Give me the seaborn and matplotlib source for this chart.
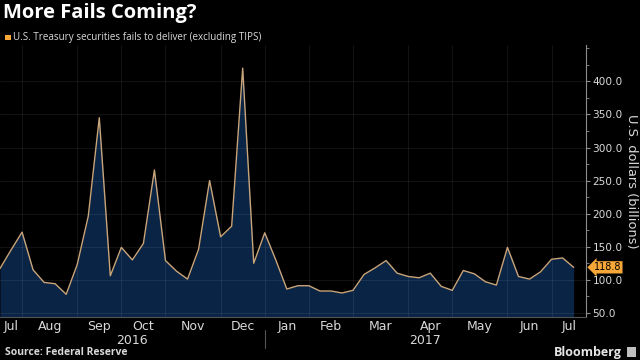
import matplotlib
matplotlib.use("Agg")
import matplotlib.pyplot as plt
import matplotlib.dates as mdates
from matplotlib.ticker import MultipleLocator, FixedLocator, FixedFormatter, NullFormatter
import seaborn as sns
import pandas as pd

# weekly (Wednesday) fails to deliver, U.S. dollars billions
start_date = "2016-07-20"
fails = [117, 145, 172, 115, 96, 94, 78, 123, 196, 345,
         106, 149, 130, 155, 266, 129, 113, 101, 146, 250,
         165, 181, 420, 125, 171, 130, 86, 91, 91, 83,
         83, 80, 84, 108, 118, 129, 110, 105, 103, 110,
         90, 84, 114, 109, 97, 92, 149, 105, 101, 112,
         131, 133, 118.8]
y_ticks = [50, 100, 150, 200, 250, 300, 350, 400]
title = "More Fails Coming?"
legend_label = "U.S. Treasury securities fails to deliver (excluding TIPS)"
y_label = "U.S. dollars (billions)"
source = "Source: Federal Reserve"

dates = pd.date_range(start_date, periods=len(fails), freq="7D")
df = pd.DataFrame({"date": dates, "fails": fails})

BG = "#000000"
FILL = "#0a2446"
LINE = "#c9a57a"
AXC = "#8c8c8c"
TXT = "#d9d9d9"
ORANGE = "#f6a737"
OPEN = ["Open Sans", "DejaVu Sans"]

sns.set_style("dark", {"axes.facecolor": BG, "figure.facecolor": BG})
plt.rcParams["font.family"] = ["Liberation Sans Narrow", "DejaVu Sans"]

fig = plt.figure(figsize=(6.4, 3.6), dpi=100)
ax = fig.add_axes([0.0, 0.12, 0.916, 0.755])

ax.fill_between(df["date"], df["fails"], 0, color=FILL, zorder=2, linewidth=0)
sns.lineplot(data=df, x="date", y="fails", ax=ax, color=LINE, linewidth=1.0, zorder=3)

x0 = dates[0]
x1 = dates[-1] + pd.Timedelta(days=8)
ax.set_xlim(x0, x1)
ax.set_ylim(44, 455)

# month boundaries = first weekly point of each month
first_of_month = df.groupby(df["date"].dt.to_period("M"))["date"].min()
bounds = [d for d in first_of_month if d > x0]
edges = [x0] + bounds + [x1]
mids = [edges[i] + (edges[i + 1] - edges[i]) / 2 for i in range(len(edges) - 1)]
month_names = [d.strftime("%b") for d in [x0] + bounds]

ax.xaxis.set_major_locator(FixedLocator(mdates.date2num(bounds)))
ax.xaxis.set_major_formatter(NullFormatter())
ax.xaxis.set_minor_locator(FixedLocator(mdates.date2num(mids)))
ax.xaxis.set_minor_formatter(FixedFormatter(month_names))
ax.tick_params(axis="x", which="major", length=3, color=AXC, width=0.8, direction="out")
ax.tick_params(axis="x", which="minor", length=0, labelsize=9, labelcolor=TXT, pad=2)

ax.yaxis.tick_right()
ax.set_yticks(y_ticks)
ax.set_yticklabels([f"{v:.1f}" for v in y_ticks])
ax.yaxis.set_minor_locator(MultipleLocator(25))
ax.tick_params(axis="y", which="major", length=3, color=AXC, width=0.8,
               labelsize=7.6, labelcolor=TXT, pad=1.5, labelfontfamily="DejaVu Sans")
ax.tick_params(axis="y", which="minor", length=2, color=AXC, width=0.6)
ax.set_ylabel("")
ax.set_xlabel("")

# faint grid drawn over the fill, under the line
ax.set_axisbelow(False)
ax.grid(True, which="major", color="#ffffff", alpha=0.075, linewidth=0.8)
for gl in ax.get_xgridlines() + ax.get_ygridlines():
    gl.set_zorder(2.5)
for s in ["top", "left"]:
    ax.spines[s].set_visible(False)
ax.spines["right"].set_color(AXC)
ax.spines["right"].set_linewidth(0.8)
ax.spines["bottom"].set_color("#555555")
ax.spines["bottom"].set_linewidth(0.8)

# last value tag
ax.text(1.013, fails[-1], f"{fails[-1]:.1f}", transform=ax.get_yaxis_transform(),
        ha="left", va="center", fontsize=6.9, color="#000000", zorder=5,
        family="DejaVu Sans",
        bbox=dict(boxstyle="larrow,pad=0.12", fc=ORANGE, ec="none"), clip_on=False)

# year labels
jan = [d for d in bounds if d.month == 1][0]
yr_t = ax.get_xaxis_transform()
ax.text(x0 + (jan - x0) / 2, -0.065, "2016", transform=yr_t, ha="center", va="top",
        fontsize=9, color=TXT)
ax.text(jan + (x1 - jan) / 2, -0.065, "2017", transform=yr_t, ha="center", va="top",
        fontsize=9, color=TXT)
ax.plot([jan, jan], [-0.05, -0.115], transform=yr_t, color="#555555", lw=0.8, clip_on=False)

# titles and notes
fig.text(0.986, 0.497, y_label, rotation=270, ha="center", va="center", fontsize=9.4,
         color=TXT, family="DejaVu Sans")
fig.text(0.005, 0.965, title, ha="left", va="center", fontsize=14.5, fontweight="bold",
         color="#ffffff", family=OPEN)
fig.patches.append(plt.Rectangle((0.008, 0.888), 0.009, 0.016, transform=fig.transFigure,
                                 fc=ORANGE, ec="none"))
fig.text(0.021, 0.897, legend_label, ha="left", va="center", fontsize=7.1,
         color=TXT, family=OPEN)
fig.text(0.008, 0.022, source, ha="left", va="center", fontsize=7.5, fontweight="bold",
         color=TXT, family=OPEN)
fig.text(0.972, 0.022, "Bloomberg", ha="right", va="center", fontsize=9,
         fontweight="bold", color="#e6e6e6", family=OPEN)
fig.patches.append(plt.Rectangle((0.979, 0.008), 0.014, 0.028, transform=fig.transFigure,
                                 fc="#bfbfbf", ec="none"))

fig.savefig("out.png", dpi=100, facecolor=BG)
